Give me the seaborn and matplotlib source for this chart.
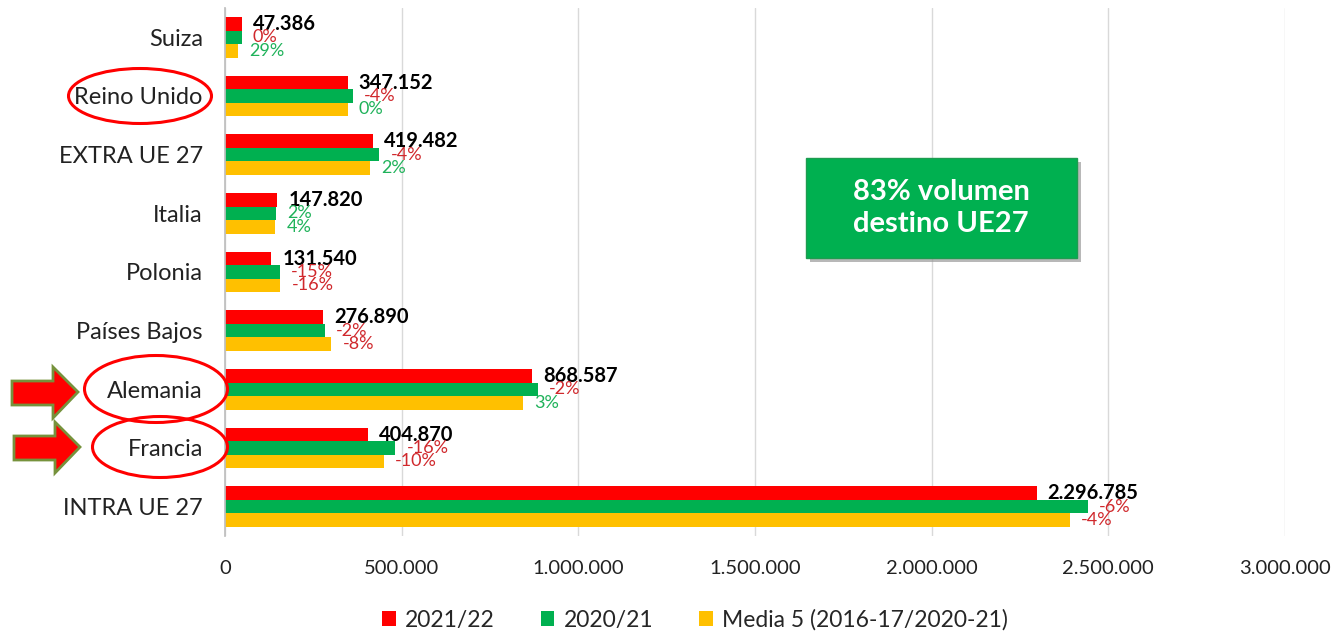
import numpy as np
import pandas as pd
import matplotlib
matplotlib.use("Agg")
import matplotlib.pyplot as plt
import seaborn as sns
from matplotlib.patches import Ellipse, Polygon, Rectangle
from matplotlib.ticker import FuncFormatter

# datos
paises = ["Suiza", "Reino Unido", "EXTRA UE 27", "Italia", "Polonia",
          "Países Bajos", "Alemania", "Francia", "INTRA UE 27"]
series = ["2021/22", "2020/21", "Media 5 (2016-17/2020-21)"]
v_2122 = [47386, 347152, 419482, 147820, 131540, 276890, 868587, 404870, 2296785]
v_2021 = [47400, 361600, 437000, 145000, 154800, 282500, 886000, 482000, 2443000]
v_media = [36700, 347000, 411000, 142000, 156600, 301000, 843000, 450000, 2392000]
etiq_2122 = ["47.386", "347.152", "419.482", "147.820", "131.540",
             "276.890", "868.587", "404.870", "2.296.785"]
etiq_2021 = ["0%", "-4%", "-4%", "2%", "-15%", "-2%", "-2%", "-16%", "-6%"]
etiq_media = ["29%", "0%", "2%", "4%", "-16%", "-8%", "3%", "-10%", "-4%"]

ROJO = "#FF0000"
VERDE = "#00B050"
AMARILLO = "#FFC000"
TXT_ROJO = "#D0282C"
TXT_VERDE = "#1FB25A"
col_2021 = [TXT_ROJO, TXT_ROJO, TXT_ROJO, TXT_VERDE, TXT_ROJO, TXT_ROJO, TXT_ROJO, TXT_ROJO, TXT_ROJO]
col_media = [TXT_VERDE, TXT_VERDE, TXT_VERDE, TXT_VERDE, TXT_ROJO, TXT_ROJO, TXT_VERDE, TXT_ROJO, TXT_ROJO]

df = pd.DataFrame({
    "pais": paises * 3,
    "serie": [series[0]] * 9 + [series[1]] * 9 + [series[2]] * 9,
    "valor": v_2122 + v_2021 + v_media,
})

sns.set_theme(style="white")
plt.rcParams["font.family"] = ["Lato", "DejaVu Sans"]

W, H = 1334, 632
fig = plt.figure(figsize=(W / 100, H / 100), dpi=100)


def fx(x):
    return x / W


def fy(y):
    return 1 - y / H


ax = fig.add_axes([fx(225), fy(536), fx(1285) - fx(225), (536 - 8) / H])
sns.barplot(data=df, y="pais", x="valor", hue="serie", orient="h",
            palette=[ROJO, VERDE, AMARILLO], saturation=1, width=0.69, linewidth=0,
            order=paises, hue_order=series, ax=ax)

ax.set_xlim(0, 3000000)
ax.set_xticks(np.arange(0, 3000001, 500000))
ax.xaxis.set_major_formatter(FuncFormatter(lambda v, p: f"{int(v):,}".replace(",", ".")))
ax.set_xlabel("")
ax.set_ylabel("")
ax.tick_params(axis="x", labelsize=14.5, pad=17, length=0, colors="#222222")
ax.tick_params(axis="y", labelsize=17, length=0, pad=16, colors="#222222")
ax.grid(axis="x", color="#D9D9D9", linewidth=1)
ax.set_axisbelow(True)
for s in ["top", "right", "bottom"]:
    ax.spines[s].set_visible(False)
ax.spines["left"].set_color("#BFBFBF")

# etiquetas de datos
conts = ax.containers
t1 = ax.bar_label(conts[0], labels=etiq_2122, padding=8, fontsize=14.5,
                  fontweight="bold", color="black")
t2 = ax.bar_label(conts[1], labels=etiq_2021, padding=8, fontsize=13)
t3 = ax.bar_label(conts[2], labels=etiq_media, padding=8, fontsize=13)
for t, c in zip(t2, col_2021):
    t.set_color(c)
for t, c in zip(t3, col_media):
    t.set_color(c)

# leyenda
handles, labels = ax.get_legend_handles_labels()
ax.get_legend().remove()
fig.legend(handles, labels, loc="center", bbox_to_anchor=(fx(695), fy(620)),
           ncol=3, frameon=False, fontsize=16.5, handlelength=0.6, handleheight=0.6,
           handletextpad=0.4, columnspacing=2.0)

# cuadro verde
fig.patches.append(Rectangle((fx(810), fy(262)), fx(271), (262 - 162) / H,
                             transform=fig.transFigure, facecolor="#9A9A9A",
                             edgecolor="none", alpha=0.7, zorder=5))
fig.patches.append(Rectangle((fx(806), fy(258)), fx(271), (258 - 158) / H,
                             transform=fig.transFigure, facecolor=VERDE,
                             edgecolor="#1E9C50", linewidth=1, zorder=6))
fig.text(fx(941), fy(208), "83% volumen\ndestino UE27", ha="center", va="center",
         color="white", fontsize=21, fontweight="bold", linespacing=1.3, zorder=7)

# elipses
for cx, cy, w, h in [(140, 96, 143, 55), (156, 389, 143, 67), (160, 447, 135, 61)]:
    fig.patches.append(Ellipse((fx(cx), fy(cy)), w / W, h / H, transform=fig.transFigure,
                               facecolor="none", edgecolor="#FF0000", linewidth=2.2, zorder=8))

# flechas
for dx, dy in [(0, 0), (2, 55)]:
    pts = [(12, 381), (53, 381), (53, 367), (78, 392), (53, 418), (53, 405), (12, 405)]
    pts = [(fx(x + dx), fy(y + dy)) for x, y in pts]
    fig.patches.append(Polygon(pts, closed=True, transform=fig.transFigure,
                               facecolor="#FF0000", edgecolor="#76923C", linewidth=2, zorder=8))

fig.savefig("out.png", dpi=100)
